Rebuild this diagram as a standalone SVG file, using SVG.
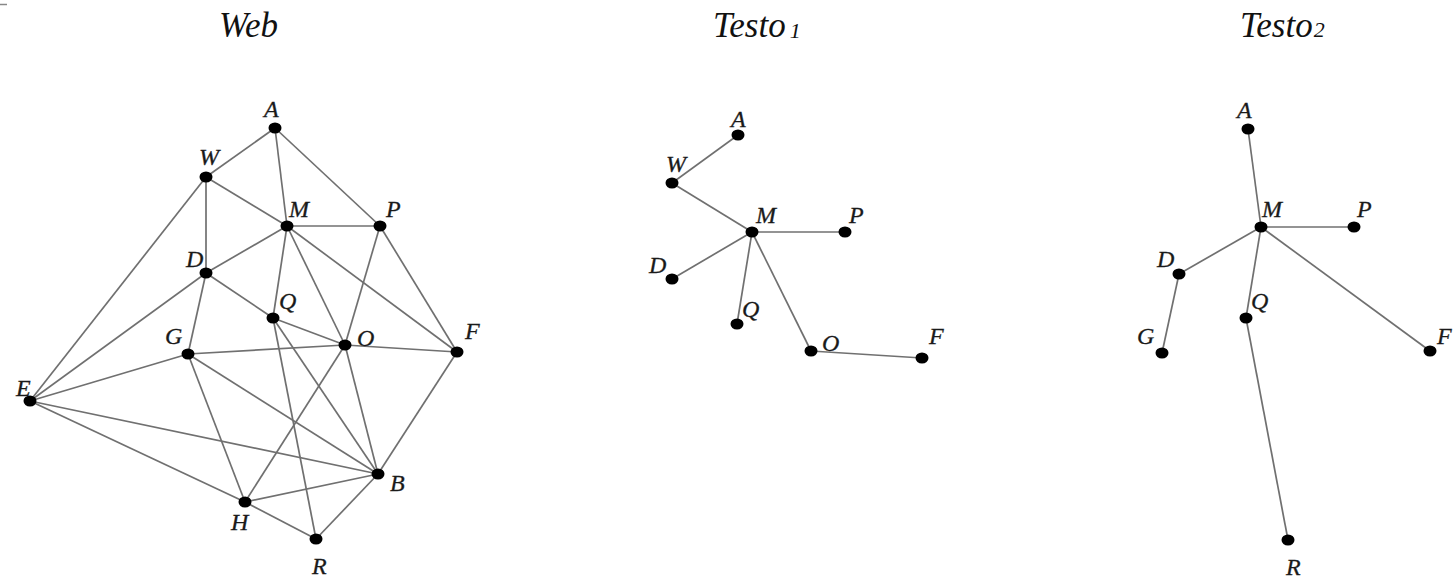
<svg xmlns="http://www.w3.org/2000/svg" width="1455" height="578" viewBox="0 0 1455 578">
<style>
.e{stroke:#707070;stroke-width:1.7;fill:none}
.n{fill:#000}
.l{font-family:"Liberation Serif","Times New Roman",serif;font-style:italic;font-size:24px;fill:#1a1a1a;stroke:#1a1a1a;stroke-width:0.3}
.t{font-family:"Liberation Serif","Times New Roman",serif;font-style:italic;font-size:35px;fill:#111}
.s{font-size:22px}
</style>
<rect width="1455" height="578" fill="#fff"/>
<line x1="0" y1="4.5" x2="7" y2="4.5" stroke="#888" stroke-width="1.5"/>
<text class="t" x="219" y="37">Web</text>
<text class="t" x="713" y="37">Testo<tspan class="s" dx="4" dy="1">1</tspan></text>
<text class="t" x="1240" y="37">Testo<tspan class="s" dx="1" dy="0">2</tspan></text>
<g id="connectors">
<g id="web-edges">
<line class="e" x1="275" y1="128" x2="206" y2="177"/>
<line class="e" x1="275" y1="128" x2="287" y2="226"/>
<line class="e" x1="275" y1="128" x2="380" y2="226"/>
<line class="e" x1="206" y1="177" x2="287" y2="226"/>
<line class="e" x1="206" y1="177" x2="206" y2="273"/>
<line class="e" x1="206" y1="177" x2="30" y2="401"/>
<line class="e" x1="287" y1="226" x2="380" y2="226"/>
<line class="e" x1="287" y1="226" x2="206" y2="273"/>
<line class="e" x1="287" y1="226" x2="273" y2="318"/>
<line class="e" x1="287" y1="226" x2="345" y2="345"/>
<line class="e" x1="287" y1="226" x2="457" y2="352"/>
<line class="e" x1="380" y1="226" x2="345" y2="345"/>
<line class="e" x1="380" y1="226" x2="457" y2="352"/>
<line class="e" x1="206" y1="273" x2="188" y2="354"/>
<line class="e" x1="206" y1="273" x2="30" y2="401"/>
<line class="e" x1="206" y1="273" x2="273" y2="318"/>
<line class="e" x1="273" y1="318" x2="345" y2="345"/>
<line class="e" x1="273" y1="318" x2="378" y2="474"/>
<line class="e" x1="273" y1="318" x2="316" y2="539"/>
<line class="e" x1="188" y1="354" x2="345" y2="345"/>
<line class="e" x1="345" y1="345" x2="457" y2="352"/>
<line class="e" x1="188" y1="354" x2="30" y2="401"/>
<line class="e" x1="188" y1="354" x2="245" y2="502"/>
<line class="e" x1="188" y1="354" x2="378" y2="474"/>
<line class="e" x1="30" y1="401" x2="378" y2="474"/>
<line class="e" x1="30" y1="401" x2="245" y2="502"/>
<line class="e" x1="345" y1="345" x2="378" y2="474"/>
<line class="e" x1="345" y1="345" x2="245" y2="502"/>
<line class="e" x1="457" y1="352" x2="378" y2="474"/>
<line class="e" x1="378" y1="474" x2="245" y2="502"/>
<line class="e" x1="378" y1="474" x2="316" y2="539"/>
<line class="e" x1="245" y1="502" x2="316" y2="539"/>
</g>
<g id="testo1-edges">
<line class="e" x1="738" y1="135" x2="672" y2="183"/>
<line class="e" x1="672" y1="183" x2="752" y2="232"/>
<line class="e" x1="752" y1="232" x2="845" y2="232"/>
<line class="e" x1="752" y1="232" x2="672" y2="279"/>
<line class="e" x1="752" y1="232" x2="737" y2="324"/>
<line class="e" x1="752" y1="232" x2="811" y2="351"/>
<line class="e" x1="811" y1="351" x2="922" y2="358"/>
</g>
<g id="testo2-edges">
<line class="e" x1="1248" y1="129" x2="1261" y2="227"/>
<line class="e" x1="1261" y1="227" x2="1354" y2="227"/>
<line class="e" x1="1261" y1="227" x2="1179" y2="274"/>
<line class="e" x1="1179" y1="274" x2="1162" y2="353"/>
<line class="e" x1="1261" y1="227" x2="1246" y2="318"/>
<line class="e" x1="1246" y1="318" x2="1288" y2="540"/>
<line class="e" x1="1261" y1="227" x2="1430" y2="351"/>
</g>
</g>
<g id="web">
<g id="web-A"><ellipse class="n" cx="275" cy="128" rx="6.5" ry="5.5"/><text class="l" x="264" y="117">A</text></g>
<g id="web-W"><ellipse class="n" cx="206" cy="177" rx="6.5" ry="5.5"/><text class="l" x="199" y="165">W</text></g>
<g id="web-M"><ellipse class="n" cx="287" cy="226" rx="6.5" ry="5.5"/><text class="l" x="289" y="217">M</text></g>
<g id="web-P"><ellipse class="n" cx="380" cy="226" rx="6.5" ry="5.5"/><text class="l" x="386" y="217">P</text></g>
<g id="web-D"><ellipse class="n" cx="206" cy="273" rx="6.5" ry="5.5"/><text class="l" x="186" y="267">D</text></g>
<g id="web-Q"><ellipse class="n" cx="273" cy="318" rx="6.5" ry="5.5"/><text class="l" x="279" y="309">Q</text></g>
<g id="web-G"><ellipse class="n" cx="188" cy="354" rx="6.5" ry="5.5"/><text class="l" x="165" y="344">G</text></g>
<g id="web-O"><ellipse class="n" cx="345" cy="345" rx="6.5" ry="5.5"/><text class="l" x="357" y="346">O</text></g>
<g id="web-F"><ellipse class="n" cx="457" cy="352" rx="6.5" ry="5.5"/><text class="l" x="465" y="339">F</text></g>
<g id="web-E"><ellipse class="n" cx="30" cy="401" rx="6.5" ry="5.5"/><text class="l" x="16" y="396">E</text></g>
<g id="web-B"><ellipse class="n" cx="378" cy="474" rx="6.5" ry="5.5"/><text class="l" x="390" y="491">B</text></g>
<g id="web-H"><ellipse class="n" cx="245" cy="502" rx="6.5" ry="5.5"/><text class="l" x="231" y="530">H</text></g>
<g id="web-R"><ellipse class="n" cx="316" cy="539" rx="6.5" ry="5.5"/><text class="l" x="312" y="574">R</text></g>
</g>
<g id="testo1">
<g id="t1-A"><ellipse class="n" cx="738" cy="135" rx="6.5" ry="5.5"/><text class="l" x="731" y="127">A</text></g>
<g id="t1-W"><ellipse class="n" cx="672" cy="183" rx="6.5" ry="5.5"/><text class="l" x="666" y="172">W</text></g>
<g id="t1-M"><ellipse class="n" cx="752" cy="232" rx="6.5" ry="5.5"/><text class="l" x="756" y="223">M</text></g>
<g id="t1-P"><ellipse class="n" cx="845" cy="232" rx="6.5" ry="5.5"/><text class="l" x="849" y="223">P</text></g>
<g id="t1-D"><ellipse class="n" cx="672" cy="279" rx="6.5" ry="5.5"/><text class="l" x="649" y="273">D</text></g>
<g id="t1-Q"><ellipse class="n" cx="737" cy="324" rx="6.5" ry="5.5"/><text class="l" x="742" y="317">Q</text></g>
<g id="t1-O"><ellipse class="n" cx="811" cy="351" rx="6.5" ry="5.5"/><text class="l" x="822" y="351">O</text></g>
<g id="t1-F"><ellipse class="n" cx="922" cy="358" rx="6.5" ry="5.5"/><text class="l" x="929" y="344">F</text></g>
</g>
<g id="testo2">
<g id="t2-A"><ellipse class="n" cx="1248" cy="129" rx="6.5" ry="5.5"/><text class="l" x="1237" y="118">A</text></g>
<g id="t2-M"><ellipse class="n" cx="1261" cy="227" rx="6.5" ry="5.5"/><text class="l" x="1262" y="217">M</text></g>
<g id="t2-P"><ellipse class="n" cx="1354" cy="227" rx="6.5" ry="5.5"/><text class="l" x="1357" y="217">P</text></g>
<g id="t2-D"><ellipse class="n" cx="1179" cy="274" rx="6.5" ry="5.5"/><text class="l" x="1157" y="267">D</text></g>
<g id="t2-G"><ellipse class="n" cx="1162" cy="353" rx="6.5" ry="5.5"/><text class="l" x="1137" y="344">G</text></g>
<g id="t2-Q"><ellipse class="n" cx="1246" cy="318" rx="6.5" ry="5.5"/><text class="l" x="1251" y="309">Q</text></g>
<g id="t2-F"><ellipse class="n" cx="1430" cy="351" rx="6.5" ry="5.5"/><text class="l" x="1437" y="344">F</text></g>
<g id="t2-R"><ellipse class="n" cx="1288" cy="540" rx="6.5" ry="5.5"/><text class="l" x="1286" y="575">R</text></g>
</g>
</svg>
